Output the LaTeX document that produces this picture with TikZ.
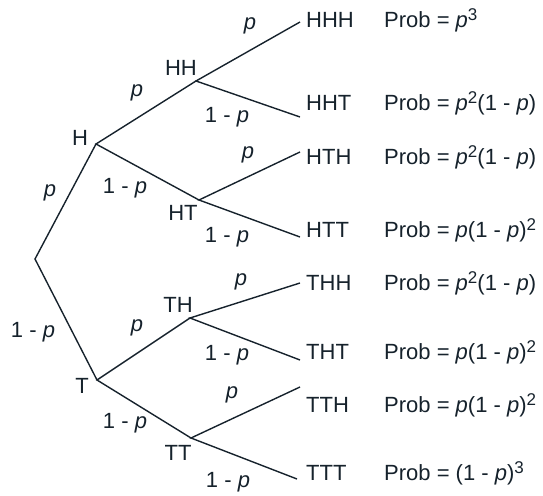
\documentclass[tikz,border=0pt]{standalone}
\usepackage{fontspec}
\setmainfont{Liberation Sans}
\definecolor{ink}{RGB}{22,34,44}
\newcommand{\pp}{\textit{p}}
\newcommand{\pw}[1]{\raisebox{0.32em}{\fontsize{17}{20}\selectfont #1}}
\begin{document}
\begin{tikzpicture}[x=1pt,y=-1pt,
  every node/.style={font=\fontsize{22}{26}\selectfont, text=ink, inner sep=0pt, anchor=base},
  branch/.style={draw=ink, line width=1.4pt},
  leaf/.style={anchor=base west},
  prob/.style={anchor=base west}]
  \useasboundingbox (0,0) rectangle (543,495);

  % branching points
  \coordinate (root) at (35,259);
  \coordinate (H) at (96,144);
  \coordinate (T) at (97,380);
  \coordinate (HH) at (196,81);
  \coordinate (HT) at (199,200);
  \coordinate (TH) at (190,318);
  \coordinate (TT) at (191,438);
  % branch ends
  \coordinate (eHHH) at (300,22);
  \coordinate (eHHT) at (300,117);
  \coordinate (eHTH) at (300,152);
  \coordinate (eHTT) at (300,237);
  \coordinate (eTHH) at (300,283);
  \coordinate (eTHT) at (300,360);
  \coordinate (eTTH) at (300,387);
  \coordinate (eTTT) at (297,479);

  \draw[branch] (H) -- (root) -- (T);
  \draw[branch] (HH) -- (H) -- (HT);
  \draw[branch] (TH) -- (T) -- (TT);
  \draw[branch] (eHHH) -- (HH) -- (eHHT);
  \draw[branch] (eHTH) -- (HT) -- (eHTT);
  \draw[branch] (eTHH) -- (TH) -- (eTHT);
  \draw[branch] (eTTH) -- (TT) -- (eTTT);

  % outcome names
  \node (nH) at (80,145.5) {H};
  \node (nT) at (82,393.5) {T};
  \node (nHH) at (181,75.5) {HH};
  \node (nHT) at (183,220.5) {HT};
  \node (nTH) at (178,312.5) {TH};
  \node (nTT) at (178,460.5) {TT};

  % branch probabilities
  \node (pH) at (50,196) {\pp};
  \node (pT) at (33,337) {1 - \pp};
  \node (pHH) at (137,96) {\pp};
  \node (pHT) at (125,193) {1 - \pp};
  \node (pTH) at (137,331) {\pp};
  \node (pTT) at (125,428) {1 - \pp};
  \node (pHHH) at (250,30) {\pp};
  \node (pHHT) at (227,122) {1 - \pp};
  \node (pHTH) at (248,158) {\pp};
  \node (pHTT) at (227,242) {1 - \pp};
  \node (pTHH) at (241,285) {\pp};
  \node (pTHT) at (227,360) {1 - \pp};
  \node (pTTH) at (232,398) {\pp};
  \node (pTTT) at (228,487) {1 - \pp};

  % leaves and their probabilities
  \node[leaf] (HHH) at (306,27.5) {HHH};
  \node[leaf] (HHT) at (306,110.5) {HHT};
  \node[leaf] (HTH) at (306,164.5) {HTH};
  \node[leaf] (HTT) at (306,237.5) {HTT};
  \node[leaf] (THH) at (306,290.5) {THH};
  \node[leaf] (THT) at (306,359.5) {THT};
  \node[leaf] (TTH) at (306,412.5) {TTH};
  \node[leaf] (TTT) at (306,480.5) {TTT};

  \node[prob] (rHHH) at (384,27.5) {Prob = \pp\pw{3}};
  \node[prob] (rHHT) at (384,110.5) {Prob = \pp\pw{2}(1 - \pp)};
  \node[prob] (rHTH) at (384,164.5) {Prob = \pp\pw{2}(1 - \pp)};
  \node[prob] (rHTT) at (384,237.5) {Prob = \pp(1 - \pp)\pw{2}};
  \node[prob] (rTHH) at (384,290.5) {Prob = \pp\pw{2}(1 - \pp)};
  \node[prob] (rTHT) at (384,359.5) {Prob = \pp(1 - \pp)\pw{2}};
  \node[prob] (rTTH) at (384,412.5) {Prob = \pp(1 - \pp)\pw{2}};
  \node[prob] (rTTT) at (384,480.5) {Prob = (1 - \pp)\pw{3}};
\end{tikzpicture}
\end{document}
